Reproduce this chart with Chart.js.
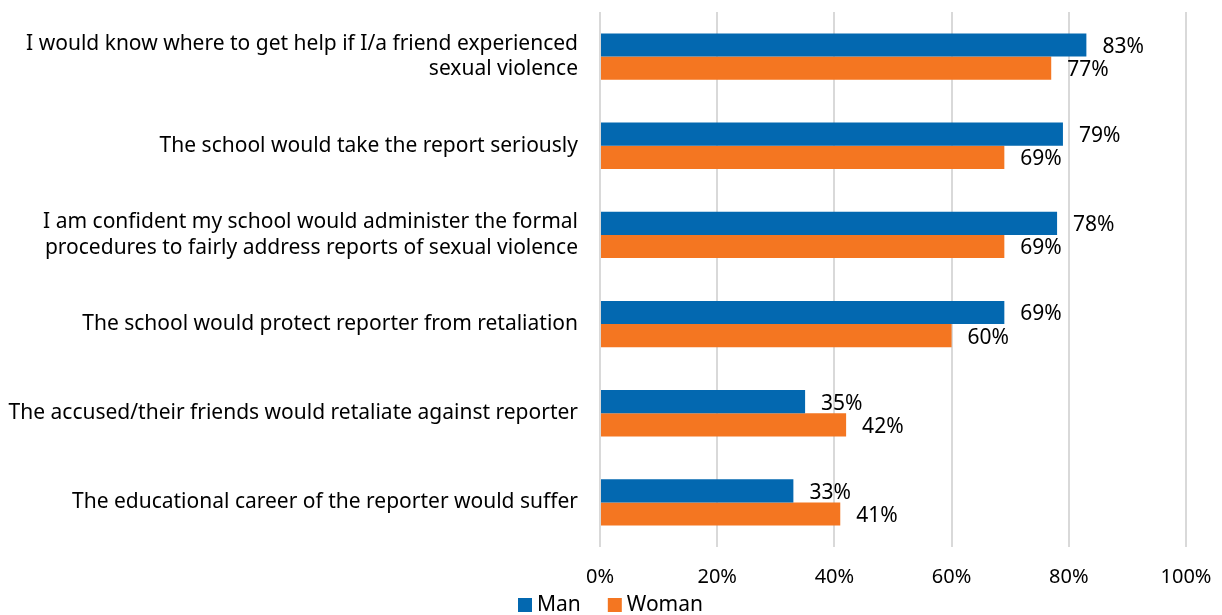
<!DOCTYPE html>
<html>
<head>
<meta charset="utf-8">
<script src="https://cdn.jsdelivr.net/npm/chart.js@4.4.0/dist/chart.umd.min.js"></script>
<style>
html,body{margin:0;padding:0;background:#fff;}
#wrap{width:1222px;height:615px;position:relative;}
</style>
</head>
<body>
<div id="wrap"><canvas id="c" width="1222" height="615"></canvas></div>
<script>
const categories = [
  ["I would know where to get help if I/a friend experienced", "sexual violence"],
  "The school would take the report seriously",
  ["I am confident my school would administer the formal", "procedures to fairly address reports of sexual violence"],
  "The school would protect reporter from retaliation",
  "The accused/their friends would retaliate against reporter",
  "The educational career of the reporter would suffer"
];
const manValues = [83, 79, 78, 69, 35, 33];
const womanValues = [77, 69, 69, 60, 42, 41];
const xTicks = [0, 20, 40, 60, 80, 100];

const FONT = "'Noto Sans', sans-serif";

const barLabels = {
  id: 'barLabels',
  afterDatasetsDraw(chart) {
    const ctx = chart.ctx;
    ctx.save();
    ctx.font = "21px " + FONT;
    ctx.fillStyle = '#000';
    ctx.textAlign = 'left';
    ctx.textBaseline = 'middle';
    chart.data.datasets.forEach((ds, i) => {
      const meta = chart.getDatasetMeta(i);
      meta.data.forEach((bar, j) => {
        ctx.fillText(ds.data[j] + '%', bar.x + 16, bar.y + 2);
      });
    });
    ctx.restore();
  }
};

// Legend drawn at the bottom, centred on the canvas
const bottomLegend = {
  id: 'bottomLegend',
  afterDraw(chart) {
    const ctx = chart.ctx;
    ctx.save();
    ctx.font = "21px " + FONT;
    ctx.textAlign = 'left';
    ctx.textBaseline = 'middle';
    const box = 14, gapBoxText = 5, gapItems = 27;
    const items = chart.data.datasets.map(ds => ({
      text: ds.label, color: ds.backgroundColor, w: ctx.measureText(ds.label).width
    }));
    let total = 0;
    items.forEach((it, i) => { total += box + gapBoxText + it.w + (i < items.length - 1 ? gapItems : 0); });
    let x = Math.round(chart.width / 2 - total / 2);
    const cy = 605;
    items.forEach(it => {
      ctx.fillStyle = it.color;
      ctx.fillRect(x, cy - 7, box, box);
      ctx.fillStyle = '#000';
      ctx.fillText(it.text, x + box + gapBoxText, cy);
      x += box + gapBoxText + it.w + gapItems;
    });
    ctx.restore();
  }
};

new Chart(document.getElementById('c'), {
  type: 'bar',
  data: {
    labels: categories,
    datasets: [
      { label: 'Man', data: manValues, backgroundColor: '#0368B0' },
      { label: 'Woman', data: womanValues, backgroundColor: '#F47621' }
    ]
  },
  options: {
    indexAxis: 'y',
    responsive: false,
    animation: false,
    devicePixelRatio: 1,
    layout: { padding: { top: 12, right: 0, left: 0, bottom: 0 } },
    datasets: { bar: { categoryPercentage: 0.52, barPercentage: 1.0 } },
    scales: {
      x: {
        min: 0, max: 100,
        afterBuildTicks(scale) { scale.ticks = xTicks.map(v => ({ value: v })); },
        afterFit(scale) { scale.height = 68; scale.paddingLeft = 0; scale.paddingRight = 36; },
        grid: { color: '#D9D9D9', lineWidth: 2, drawTicks: false },
        border: { display: false },
        ticks: {
          color: '#000',
          font: { family: FONT, size: 20 },
          padding: 18,
          callback: v => v + '%'
        }
      },
      y: {
        afterFit(scale) { scale.width = 600; scale.paddingTop = 0; scale.paddingBottom = 0; },
        grid: { display: false, drawTicks: false },
        border: { display: false },
        ticks: {
          color: '#000',
          font: { family: FONT, size: 21 },
          padding: 22,
          autoSkip: false
        }
      }
    },
    plugins: {
      legend: { display: false },
      tooltip: { enabled: false }
    }
  },
  plugins: [barLabels, bottomLegend]
});
</script>
</body>
</html>
